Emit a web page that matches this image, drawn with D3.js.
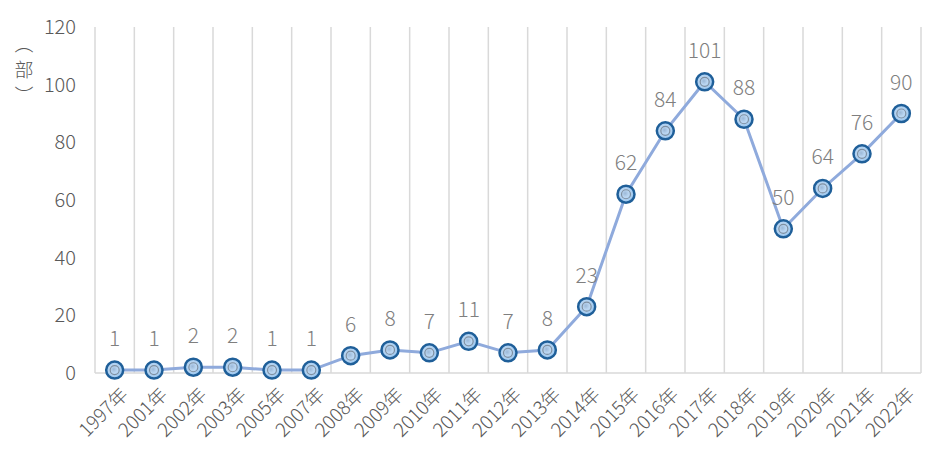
<!DOCTYPE html>
<html><head><meta charset="utf-8">
<script src="https://cdn.jsdelivr.net/npm/d3@7"></script>
<style>body{margin:0;background:#fff}text{font-family:"Noto Sans CJK SC","Noto Sans",sans-serif;font-weight:300}</style>
</head><body><div id="vis"></div>
<script>
const years = ["1997年","2001年","2002年","2003年","2005年","2007年","2008年","2009年","2010年","2011年","2012年","2013年","2014年","2015年","2016年","2017年","2018年","2019年","2020年","2021年","2022年"];
const counts = [1,1,2,2,1,1,6,8,7,11,7,8,23,62,84,101,88,50,64,76,90];
const yTicks = [0,20,40,60,80,100,120];

const width = 952, height = 470;
const svg = d3.select("#vis").append("svg").attr("width", width).attr("height", height);

const x = d3.scaleBand().domain(years).range([95, 921]);
const y = d3.scaleLinear().domain([0, 120]).range([373, 27]);

// vertical grid at category boundaries
const bounds = years.map(d => x(d)).concat([x.range()[1]]);
svg.selectAll("line.grid").data(bounds).join("line")
    .attr("x1", d => d).attr("x2", d => d)
    .attr("y1", y(120)).attr("y2", y(0))
    .attr("stroke", "#d9d9d9").attr("stroke-width", 1.5);

svg.append("line").attr("x1", 95).attr("x2", 921).attr("y1", y(0)).attr("y2", y(0))
    .attr("stroke", "#d9d9d9").attr("stroke-width", 1.5);

svg.selectAll("text.ytick").data(yTicks).join("text")
    .attr("x", 76).attr("y", d => y(d)).attr("dy", "0.35em")
    .attr("text-anchor", "end").attr("font-size", 20).attr("fill", "#595959")
    .text(d => d);

// axis title
const t = svg.append("g").attr("transform", "translate(24,70)").attr("fill", "#595959").attr("font-size", 19);
t.append("text").attr("y", -26).attr("text-anchor", "middle").attr("dy", "0.35em").text("︵");
t.append("text").attr("text-anchor", "middle").attr("dy", "0.35em").text("部");
t.append("text").attr("y", 26).attr("text-anchor", "middle").attr("dy", "0.35em").text("︶");

const cx = d => x(d) + x.bandwidth() / 2;

svg.selectAll("text.xlab").data(years).join("text")
    .attr("transform", d => `translate(${cx(d) + 10},${y(0) + 18}) rotate(-45)`)
    .attr("text-anchor", "end").attr("dy", "0.35em")
    .attr("font-size", 19).attr("fill", "#595959").text(d => d);

const line = d3.line().x((d, i) => cx(years[i])).y(d => y(d));
svg.append("path").datum(counts).attr("d", line)
    .attr("fill", "none").attr("stroke", "#8faadc").attr("stroke-width", 3);

const defs = svg.append("defs");
const g = defs.append("radialGradient").attr("id", "mk").attr("cx", "45%").attr("cy", "45%");
g.append("stop").attr("offset", "0%").attr("stop-color", "#9cb9d8");
g.append("stop").attr("offset", "45%").attr("stop-color", "#bcd7f2");
g.append("stop").attr("offset", "100%").attr("stop-color", "#9dc8f0");

svg.selectAll("circle.mk").data(counts).join("circle")
    .attr("cx", (d, i) => cx(years[i])).attr("cy", d => y(d)).attr("r", 8.5)
    .attr("fill", "url(#mk)").attr("stroke", "#1f5f99").attr("stroke-width", 2.5);
svg.selectAll("circle.in").data(counts).join("circle")
    .attr("cx", (d, i) => cx(years[i])).attr("cy", d => y(d)).attr("r", 4.5)
    .attr("fill", "none").attr("stroke", "#7f8fa0").attr("stroke-width", 1.2);

svg.selectAll("text.val").data(counts).join("text")
    .attr("x", (d, i) => cx(years[i])).attr("y", d => y(d) - 24)
    .attr("text-anchor", "middle").attr("font-size", 21).attr("fill", "#7f7f7f")
    .text(d => d);
</script></body></html>
